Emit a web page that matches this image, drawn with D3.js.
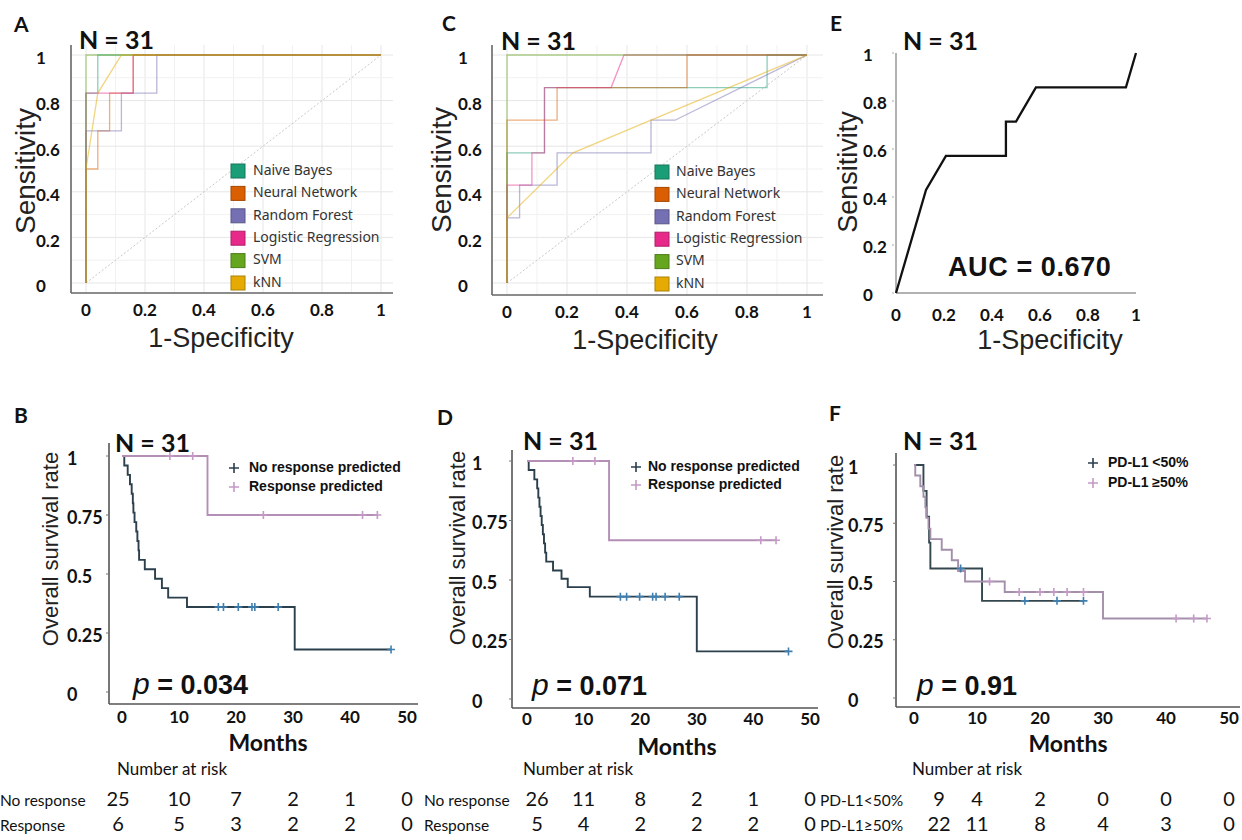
<!DOCTYPE html>
<html><head><meta charset="utf-8">
<script src="https://cdn.jsdelivr.net/npm/d3@7"></script>
<style>body{margin:0;background:#fff} svg{display:block}</style>
</head><body><svg id="c" width="1242" height="840"></svg>
<script>
// ---------------- DATA ----------------
const rocModels = ["Naive Bayes","Neural Network","Random Forest","Logistic Regression","SVM","kNN"];
const rocColors = ["#1b9e77","#d95f02","#7570b3","#e7298a","#66a61e","#e6ab02"];
const rocTicks = [0,0.2,0.4,0.6,0.8,1];
const rocTickLabels = ["0","0.2","0.4","0.6","0.8","1"];

// Panel A ROC curves [1-specificity, sensitivity]
const rocA_NaiveBayes = [[0,0],[0,0.833],[0.04,0.833],[0.04,1],[1,1]];
const rocA_NeuralNet = [[0,0],[0,0.5],[0.04,0.5],[0.04,0.667],[0.08,0.667],[0.08,0.833],[0.16,0.833],[0.16,1],[1,1]];
const rocA_RandomForest = [[0,0],[0,0.667],[0.12,0.667],[0.12,0.833],[0.24,0.833],[0.24,1],[1,1]];
const rocA_Logistic = [[0,0],[0,0.833],[0.16,0.833],[0.16,1],[1,1]];
const rocA_SVM = [[0,0],[0,1],[1,1]];
const rocA_kNN = [[0,0],[0,0.5],[0.04,0.833],[0.12,1],[1,1]];

// Panel C ROC curves
const rocC_NaiveBayes = [[0,0],[0,0.571],[0.125,0.571],[0.125,0.857],[0.867,0.857],[0.867,1],[1,1]];
const rocC_NeuralNet = [[0,0],[0,0.714],[0.167,0.714],[0.167,0.857],[0.6,0.857],[0.6,1],[1,1]];
const rocC_RandomForest = [[0,0],[0,0.286],[0.042,0.286],[0.042,0.429],[0.167,0.429],[0.167,0.571],[0.48,0.571],[0.48,0.714],[0.56,0.714],[1,1]];
const rocC_Logistic = [[0,0],[0,0.429],[0.083,0.429],[0.083,0.571],[0.125,0.571],[0.125,0.857],[0.347,0.857],[0.39,1],[1,1]];
const rocC_SVM = [[0,0],[0,1],[1,1]];
const rocC_kNN = [[0,0],[0,0.286],[0.22,0.571],[0.48,0.714],[1,1]];

// Panel E ROC (PD-L1)
const rocE = [[0,0],[0.125,0.429],[0.208,0.571],[0.458,0.571],[0.458,0.714],[0.5,0.714],[0.583,0.857],[0.958,0.857],[1,1]];
const aucE = "AUC = 0.670";

// Kaplan-Meier: [months, survival]
const kmTicks = [0,10,20,30,40,50];
const kmYTicks = [0,0.25,0.5,0.75,1];
const kmYTickLabels = ["0","0.25","0.5","0.75","1"];

const kmB_noResp = [[0,1],[0.4,0.96],[1.0,0.92],[1.4,0.88],[1.7,0.84],[1.9,0.80],[2.0,0.76],[2.2,0.72],[2.5,0.68],[2.7,0.64],[2.9,0.60],[3.0,0.56],[4.0,0.52],[5.8,0.48],[7.0,0.44],[8.1,0.40],[11.4,0.36],[30.3,0.18],[47.2,0.18]];
const kmB_noRespCensor = [16.9,17.8,20.4,22.8,23.3,27.4,47.2];
const kmB_resp = [[0,1],[15.0,0.75],[44.8,0.75]];
const kmB_respCensor = [8.4,12.4,24.8,42.2,44.8];

const kmD_noResp = [[0,1],[0.3,0.962],[1.3,0.923],[1.8,0.885],[2.0,0.846],[2.2,0.808],[2.4,0.769],[2.6,0.731],[2.8,0.692],[3.0,0.654],[3.2,0.615],[3.4,0.577],[4.6,0.54],[6.1,0.505],[7.2,0.47],[11.1,0.43],[30.0,0.2],[46.2,0.2]];
const kmD_noRespCensor = [16.5,17.6,19.9,22.2,22.8,24.4,26.9,46.2];
const kmD_resp = [[0,1],[14.5,0.667],[44.0,0.667]];
const kmD_respCensor = [8.1,12.0,41.3,44.0];

const kmF_low = [[0,1],[1.5,0.889],[2.0,0.778],[2.4,0.667],[2.6,0.556],[10.8,0.417],[26.9,0.417]];
const kmF_lowCensor = [7.4,17.6,22.7,26.9];
const kmF_high = [[0,1],[0.2,0.955],[1.0,0.909],[1.5,0.864],[1.8,0.818],[2.0,0.773],[2.3,0.727],[2.6,0.682],[4.4,0.636],[6.0,0.591],[7.0,0.545],[8.1,0.5],[14.4,0.455],[30.0,0.341],[46.5,0.341]];
const kmF_highCensor = [12.0,16.7,20.0,22.2,24.3,26.9,41.6,44.4,46.5];

// Number at risk tables
const riskB_labels = ["No response","Response"];
const riskB_rows = [[25,10,7,2,1,0],[6,5,3,2,2,0]];
const riskD_labels = ["No response","Response"];
const riskD_rows = [[26,11,8,2,1,0],[5,4,2,2,2,0]];
const riskF_labels = ["PD-L1<50%","PD-L1\u226550%"];
const riskF_rows = [[9,4,2,0,0,0],[22,11,8,4,3,0]];

const legendB = ["No response predicted","Response predicted"];
const legendF = ["PD-L1 <50%","PD-L1 \u226550%"];

// ---------------- DRAWING ----------------
const svg = d3.select("#c");
svg.append("rect").attr("width",1242).attr("height",840).attr("fill","#fff");
const CAL = "Lato, 'Open Sans', sans-serif";
const ARI = "'Liberation Sans', Arial, sans-serif";

function rocPanel(cfg){
  const g = svg.append("g");
  const x = d3.scaleLinear().domain([0,1]).range(cfg.xr);
  const y = d3.scaleLinear().domain([0,1]).range(cfg.yr);
  if(cfg.grid){
    const gv = d3.range(0,1.01,0.1);
    g.selectAll(".gx").data(gv).join("line")
      .attr("x1",d=>x(d)).attr("x2",d=>x(d)).attr("y1",cfg.top).attr("y2",cfg.axisY)
      .attr("stroke",(d,i)=>i%2===0?"#e6e6e6":"#f1f1f1").attr("stroke-width",1);
    g.selectAll(".gy").data(gv).join("line")
      .attr("y1",d=>y(d)).attr("y2",d=>y(d)).attr("x1",cfg.axisX).attr("x2",cfg.axisEnd)
      .attr("stroke",(d,i)=>i%2===0?"#e6e6e6":"#f1f1f1").attr("stroke-width",1);
    g.append("line").attr("x1",x(0)).attr("y1",y(0)).attr("x2",x(1)).attr("y2",y(1))
      .attr("stroke","#c8c8c8").attr("stroke-width",1).attr("stroke-dasharray","2,2");
  }
  g.append("line").attr("x1",cfg.axisX).attr("x2",cfg.axisX).attr("y1",cfg.top).attr("y2",cfg.axisY)
    .attr("stroke",cfg.axisColor).attr("stroke-width",cfg.axisW);
  g.append("line").attr("x1",cfg.axisX).attr("x2",cfg.axisEnd).attr("y1",cfg.axisY).attr("y2",cfg.axisY)
    .attr("stroke",cfg.axisColor).attr("stroke-width",cfg.axisW);
  if(cfg.yTickMarks){
    g.selectAll(".tm").data(rocTicks).join("line")
      .attr("x1",cfg.axisX-4).attr("x2",cfg.axisX-2).attr("y1",d=>y(d)).attr("y2",d=>y(d))
      .attr("stroke","#aaa").attr("stroke-width",1);
  }
  g.selectAll(".yl").data(rocTicks).join("text")
    .attr("x",cfg.ytickX).attr("y",d=>y(d)+cfg.ytickDy).attr("dominant-baseline","middle")
    .attr("font-family",CAL).attr("font-weight",700).attr("font-size",17).attr("fill","#111")
    .text((d,i)=>rocTickLabels[i]);
  g.selectAll(".xl").data(rocTicks).join("text")
    .attr("x",d=>x(d)).attr("y",cfg.xtickY).attr("text-anchor","middle")
    .attr("font-family",CAL).attr("font-weight",700).attr("font-size",17).attr("fill","#111")
    .text((d,i)=>rocTickLabels[i]);
  g.append("text").attr("x",cfg.xlab[0]).attr("y",cfg.xlab[1]).attr("text-anchor","middle")
    .attr("font-family",ARI).attr("font-size",27).attr("fill","#222").text("1-Specificity");
  g.append("text").attr("transform",`translate(${cfg.ylab[0]},${cfg.ylab[1]}) rotate(-90)`)
    .attr("text-anchor","middle").attr("font-family",ARI).attr("font-size",cfg.ylabSize).attr("fill","#222").text("Sensitivity");
  g.append("text").attr("x",cfg.letter[0]).attr("y",cfg.letter[1]).attr("font-family",CAL)
    .attr("font-weight",700).attr("font-size",21).attr("fill","#111").text(cfg.letter[2]);
  g.append("text").attr("x",cfg.n[0]).attr("y",cfg.n[1]).attr("font-family",CAL)
    .attr("font-weight",700).attr("font-size",25).attr("fill","#111").text("N = 31");
  const line = d3.line().x(d=>x(d[0])).y(d=>y(d[1]));
  if(cfg.curves){
    cfg.curves.forEach((c,i)=>{
      g.append("path").attr("d",line(c)).attr("fill","none").attr("stroke",rocColors[i])
        .attr("stroke-width",1.3).attr("stroke-opacity",0.5);
    });
    rocModels.forEach((m,i)=>{
      const yy = cfg.leg.y0 + i*cfg.leg.dy;
      g.append("rect").attr("x",cfg.leg.sx).attr("y",yy-7).attr("width",14).attr("height",14)
        .attr("fill",rocColors[i]).attr("stroke",d3.color(rocColors[i]).darker(0.8)).attr("stroke-width",1);
      g.append("text").attr("x",cfg.leg.tx).attr("y",yy).attr("dominant-baseline","middle")
        .attr("font-family","'Noto Sans', sans-serif").attr("font-size",14).attr("fill","#333").text(m);
    });
  }
  if(cfg.single){
    g.append("path").attr("d",line(cfg.single)).attr("fill","none").attr("stroke","#111")
      .attr("stroke-width",2.3).attr("stroke-linejoin","miter");
    g.append("text").attr("x",cfg.auc[0]).attr("y",cfg.auc[1]).attr("font-family",ARI)
      .attr("font-weight",900).attr("font-size",27).attr("letter-spacing",0.6).attr("fill","#111").text(aucE);
  }
}

rocPanel({xr:[86,381], yr:[283,55], grid:true, top:45, axisY:293, axisX:71, axisEnd:393,
  axisColor:"#666", axisW:1.6, ytickX:36, ytickDy:5, xtickY:316, xlab:[221,347], ylab:[35,171], ylabSize:28,
  letter:[14,32,"A"], n:[79,49], leg:{sx:231,tx:253,y0:171,dy:22.4},
  curves:[rocA_NaiveBayes,rocA_NeuralNet,rocA_RandomForest,rocA_Logistic,rocA_SVM,rocA_kNN]});
rocPanel({xr:[507,807], yr:[283,55], grid:true, top:45, axisY:295, axisX:492, axisEnd:823,
  axisColor:"#666", axisW:1.6, ytickX:458, ytickDy:5, xtickY:318, xlab:[645,349], ylab:[451,170], ylabSize:28,
  letter:[442,31,"C"], n:[501,50], leg:{sx:655,tx:676,y0:172,dy:22.4},
  curves:[rocC_NaiveBayes,rocC_NeuralNet,rocC_RandomForest,rocC_Logistic,rocC_SVM,rocC_kNN]});
rocPanel({xr:[896,1136], yr:[293,53], grid:false, top:53, axisY:293, axisX:896, axisEnd:1136,
  axisColor:"#999", axisW:1.5, yTickMarks:true, ytickX:863, ytickDy:4, xtickY:321, xlab:[1050,349], ylab:[857,172], ylabSize:27,
  letter:[830,31,"E"], n:[903,50], single:rocE, auc:[948,276]});

function plus(g, cx, cy, color, s){
  g.append("path").attr("d",`M${cx-s},${cy}H${cx+s}M${cx},${cy-s}V${cy+s}`)
    .attr("stroke",color).attr("stroke-width",1.6).attr("fill","none");
}

function kmPanel(cfg){
  const g = svg.append("g");
  const x = d3.scaleLinear().domain([0,50]).range(cfg.xr);
  const y = d3.scaleLinear().domain([0,1]).range(cfg.yr);
  g.append("line").attr("x1",cfg.axisX).attr("x2",cfg.axisX).attr("y1",cfg.top).attr("y2",cfg.axisY)
    .attr("stroke","#555").attr("stroke-width",1.6);
  g.append("line").attr("x1",cfg.axisX).attr("x2",cfg.axisEnd).attr("y1",cfg.axisY).attr("y2",cfg.axisY)
    .attr("stroke","#555").attr("stroke-width",1.6);
  g.selectAll(".tm").data(kmYTicks).join("line")
    .attr("x1",cfg.axisX-3).attr("x2",cfg.axisX).attr("y1",d=>y(d)).attr("y2",d=>y(d))
    .attr("stroke","#777").attr("stroke-width",1);
  g.selectAll(".yl").data(kmYTicks).join("text")
    .attr("x",cfg.ytickX).attr("y",d=>y(d)+4).attr("dominant-baseline","middle")
    .attr("font-family",CAL).attr("font-weight",700).attr("font-size",18).attr("fill","#111")
    .text((d,i)=>kmYTickLabels[i]);
  g.selectAll(".xl").data(kmTicks).join("text")
    .attr("x",d=>x(d)).attr("y",cfg.xtickY).attr("text-anchor","middle")
    .attr("font-family",CAL).attr("font-weight",700).attr("font-size",17).attr("fill","#111")
    .text(d=>d);
  g.append("text").attr("x",cfg.months[0]).attr("y",cfg.months[1]).attr("text-anchor","middle")
    .attr("font-family",CAL).attr("font-weight",700).attr("font-size",23).attr("fill","#111").text("Months");
  g.append("text").attr("transform",`translate(${cfg.ylab[0]},${cfg.ylab[1]}) rotate(-90)`)
    .attr("text-anchor","middle").attr("font-family",ARI).attr("font-size",22).attr("fill","#222")
    .text("Overall survival rate");
  g.append("text").attr("x",cfg.letter[0]).attr("y",cfg.letter[1]).attr("font-family",CAL)
    .attr("font-weight",700).attr("font-size",21).attr("fill","#111").text(cfg.letter[2]);
  g.append("text").attr("x",cfg.n[0]).attr("y",cfg.n[1]).attr("font-family",CAL)
    .attr("font-weight",700).attr("font-size",25).attr("fill","#111").text("N = 31");
  const pt = g.append("text").attr("x",cfg.p[0]).attr("y",cfg.p[1]).attr("font-family",ARI)
    .attr("font-weight",700).attr("font-size",27).attr("fill","#111");
  pt.append("tspan").attr("font-style","italic").attr("font-weight",400).attr("font-size",30).text("p");
  pt.append("tspan").text(" = " + cfg.pval);
  const line = d3.line().curve(d3.curveStepAfter).x(d=>x(d[0])).y(d=>y(d[1]));
  const stepVal = (s,t)=>{let v=1; s.forEach(d=>{ if(d[0]<=t) v=d[1]; }); return v;};
  cfg.series.forEach(s=>{
    g.append("path").attr("d",line(s.data)).attr("fill","none").attr("stroke",s.line).attr("stroke-width",1.9);
  });
  cfg.series.forEach(s=>{
    s.censor.forEach(t=> plus(g, x(t), y(stepVal(s.data,t)), s.mark, 4));
  });
  cfg.legend.forEach((l,i)=>{
    const yy = cfg.leg.y0 + i*cfg.leg.dy;
    plus(g, cfg.leg.mx, yy, cfg.series[i].legMark, 5);
    g.append("text").attr("x",cfg.leg.tx).attr("y",yy).attr("dominant-baseline","middle")
      .attr("font-family",ARI).attr("font-weight",700).attr("font-size",14).attr("fill","#111").text(l);
  });
  g.append("text").attr("x",cfg.nrisk[0]).attr("y",cfg.nrisk[1]).attr("font-family",CAL)
    .attr("font-size",17).attr("fill","#111").text("Number at risk");
  cfg.rows.forEach((row,ri)=>{
    const yy = cfg.rowY[ri];
    g.append("text").attr("x",cfg.rowLabelX).attr("y",yy).attr("font-family",CAL)
      .attr("font-size",15.5).attr("fill","#111").text(cfg.rowLabels[ri]);
    g.selectAll(null).data(row).join("text")
      .attr("x",(d,i)=>x(kmTicks[i])+(i===0?cfg.firstColShift:0)).attr("y",yy).attr("text-anchor","middle")
      .attr("font-family",CAL).attr("font-size",20).attr("fill","#111").text(d=>d);
  });
}

kmPanel({xr:[122,407], yr:[692,456], axisX:109, top:443, axisY:704, axisEnd:418,
  ytickX:67, xtickY:723, months:[268,751], ylab:[58,549], letter:[14,423,"B"], n:[115,452],
  p:[133,694], pval:"0.034", leg:{mx:234,tx:249,y0:468,dy:19}, legend:legendB,
  series:[{data:kmB_noResp,censor:kmB_noRespCensor,line:"#2b3f4c",mark:"#3f7fb0",legMark:"#2b3f4c"},
          {data:kmB_resp,censor:kmB_respCensor,line:"#b38fb5",mark:"#c49ac6",legMark:"#c49ac6"}],
  nrisk:[117,775], rows:riskB_rows, rowLabels:riskB_labels, rowLabelX:0, rowY:[806,831], firstColShift:-4});
kmPanel({xr:[527,810], yr:[699,461], axisX:512, top:450, axisY:708, axisEnd:818,
  ytickX:472, xtickY:725, months:[677,755], ylab:[465,548], letter:[437,425,"D"], n:[523,450],
  p:[532,695], pval:"0.071", leg:{mx:636,tx:648,y0:467,dy:18}, legend:legendB,
  series:[{data:kmD_noResp,censor:kmD_noRespCensor,line:"#2b3f4c",mark:"#3f7fb0",legMark:"#2b3f4c"},
          {data:kmD_resp,censor:kmD_respCensor,line:"#b38fb5",mark:"#c49ac6",legMark:"#c49ac6"}],
  nrisk:[523,775], rows:riskD_rows, rowLabels:riskD_labels, rowLabelX:424, rowY:[806,831], firstColShift:10});
kmPanel({xr:[914,1229], yr:[698,465], axisX:896, top:453, axisY:707, axisEnd:1240,
  ytickX:848, xtickY:724, months:[1068,752], ylab:[843,552], letter:[829,421,"F"], n:[903,450],
  p:[917,695], pval:"0.91", leg:{mx:1093,tx:1108,y0:463,dy:20}, legend:legendF,
  series:[{data:kmF_low,censor:kmF_lowCensor,line:"#34474f",mark:"#3f7fb0",legMark:"#2b3f4c"},
          {data:kmF_high,censor:kmF_highCensor,line:"#a48fab",mark:"#c49ac6",legMark:"#c49ac6"}],
  nrisk:[912,775], rows:riskF_rows, rowLabels:riskF_labels, rowLabelX:820, rowY:[806,831], firstColShift:25});
</script></body></html>
